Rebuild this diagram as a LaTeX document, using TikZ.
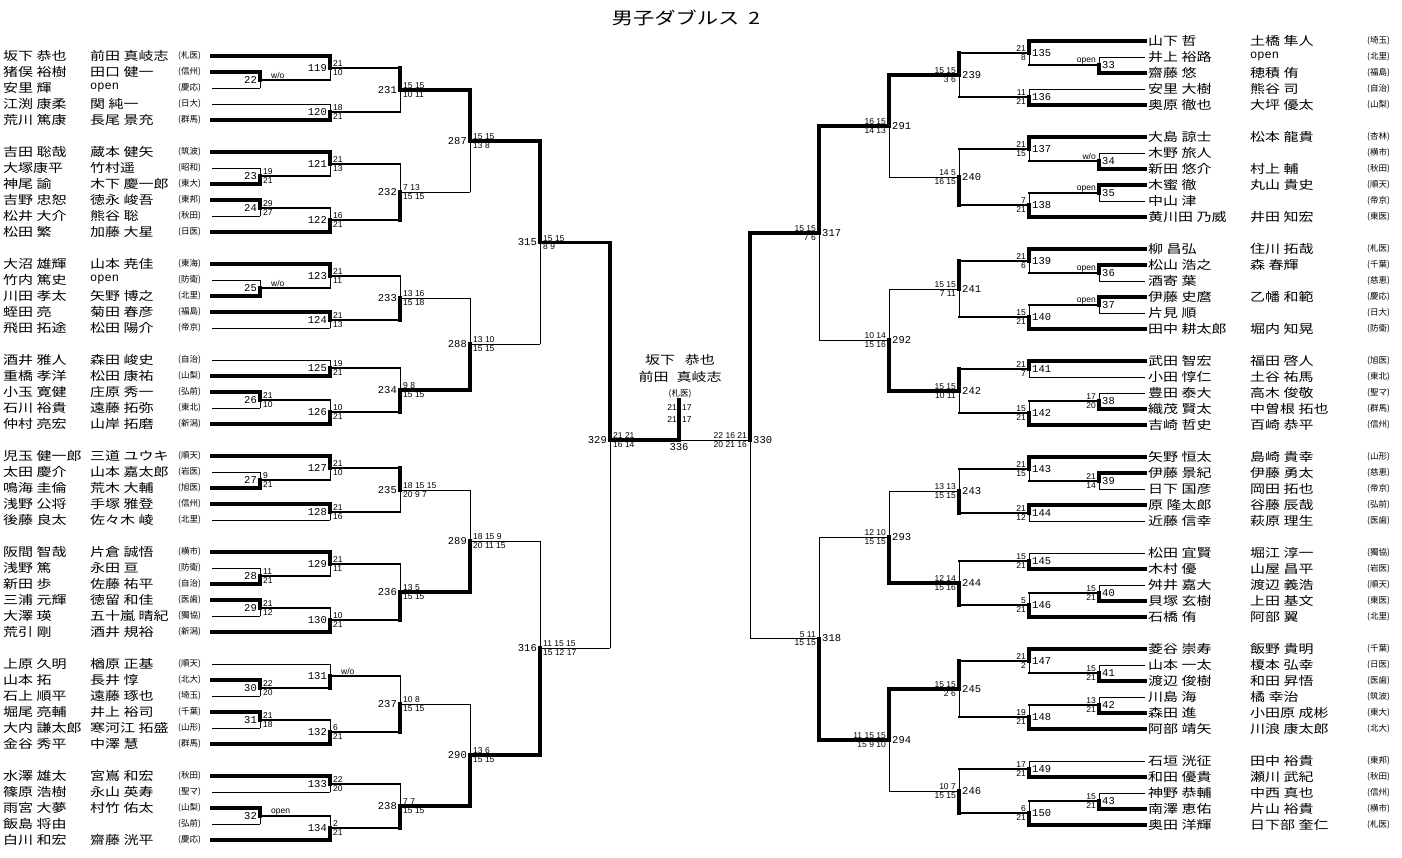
\documentclass[tikz,border=0pt]{standalone}
\usepackage{fontspec}
\newfontfamily\jpfont[FakeStretch=1.25]{Noto Sans CJK JP}
\newfontfamily\jpsmall{Noto Sans CJK JP}
\newfontfamily\numfont{Liberation Mono}
\newfontfamily\scfont{Liberation Sans}
\newcommand\op{{\numfont open}}
% one match: name, x, y, top in, bottom in, top line, bottom line, top half, bottom half
\newcommand\bmatch[9]{%
  \coordinate (#1) at (#2,#3);
  \draw[#6] (#4) -- (#4 -| #1);
  \draw[#7] (#5) -- (#5 -| #1);
  \draw[#8] (#4 -| #1) -- (#1);
  \draw[#9] (#5 -| #1) -- (#1);
}
% number and scores, left half
\newcommand\lnum[4]{%
  \node[num,anchor=east] (n#2) at ([xshift=-2pt]#1) {#2};
  \node[score,anchor=south west] (t#2) at ([xshift=2pt]#1) {#3};
  \node[score,anchor=north west] (b#2) at ([xshift=2pt]#1) {#4};
}
% number and scores, right half
\newcommand\rnum[4]{%
  \node[num,anchor=west] (n#2) at ([xshift=2pt]#1) {#2};
  \node[score,anchor=south east] (t#2) at ([xshift=-2pt]#1) {#3};
  \node[score,anchor=north east] (b#2) at ([xshift=-2pt]#1) {#4};
}
\begin{document}
\begin{tikzpicture}[x=1pt,y=-1pt,
  wpath/.style={line width=3.5pt,line cap=rect},
  mpath/.style={line width=2pt,line cap=rect},
  lpath/.style={line width=0.9pt},
  pname/.style={anchor=west,inner sep=0pt,font=\jpfont\fontsize{12}{12}\selectfont},
  school/.style={anchor=west,inner sep=0pt,font=\jpsmall\fontsize{8.5}{8.5}\selectfont},
  num/.style={inner sep=1pt,font=\numfont\fontsize{10.5}{10.5}\selectfont},
  score/.style={inner sep=1pt,font=\scfont\fontsize{8.5}{8.5}\selectfont}]
\useasboundingbox (0,0) rectangle (1402,857);
\node[font=\jpfont\fontsize{17}{17}\selectfont] (title) at (686,18) {男子ダブルス\hspace{9pt}2};

% left half
\foreach \s/\a/\b/\c in {0/坂下 恭也/前田 真岐志/札医, 1/猪俣 裕樹/田口 健一/信州,
  2/安里 輝/\op/慶応, 3/江渕 康柔/関 純一/日大, 4/荒川 篤康/長尾 景充/群馬,
  6/吉田 聡哉/蔵本 健矢/筑波, 7/大塚康平/竹村遥/昭和, 8/神尾 諭/木下 慶一郎/東大,
  9/吉野 忠恕/徳永 峻吾/東邦, 10/松井 大介/熊谷 聡/秋田, 11/松田 繁/加藤 大星/日医,
  13/大沼 雄輝/山本 尭佳/東海, 14/竹内 篤史/\op/防衛, 15/川田 孝太/矢野 博之/北里,
  16/蛭田 亮/菊田 春彦/福島, 17/飛田 拓途/松田 陽介/帝京,
  19/酒井 雅人/森田 峻史/自治, 20/重橋 孝洋/松田 康祐/山梨, 21/小玉 寛健/庄原 秀一/弘前,
  22/石川 裕貴/遠藤 拓弥/東北, 23/仲村 亮宏/山岸 拓磨/新潟,
  25/児玉 健一郎/三道 ユウキ/順天, 26/太田 慶介/山本 嘉太郎/岩医, 27/鳴海 圭倫/荒木 大輔/旭医,
  28/浅野 公将/手塚 雅登/信州, 29/後藤 良太/佐々木 崚/北里,
  31/阪間 智哉/片倉 誠悟/横市, 32/浅野 篤/永田 亘/防衛, 33/新田 歩/佐藤 祐平/自治,
  34/三浦 元輝/徳留 和佳/医歯, 35/大澤 瑛/五十嵐 晴紀/獨協, 36/荒引 剛/酒井 規裕/新潟,
  38/上原 久明/楢原 正基/順天, 39/山本 拓/長井 惇/北大, 40/石上 順平/遠藤 琢也/埼玉,
  41/堀尾 亮輔/井上 裕司/千葉, 42/大内 謙太郎/寒河江 拓盛/山形, 43/金谷 秀平/中澤 慧/群馬,
  45/水澤 雄太/宮嶌 和宏/秋田, 46/篠原 浩樹/永山 英寿/聖マ, 47/雨宮 大夢/村竹 佑太/山梨,
  48/飯島 将由//弘前, 49/白川 和宏/齋藤 洸平/慶応}{
  \coordinate (L\s) at (212,{56+16*\s});
  \node[pname] (la\s) at (3,{56+16*\s}) {\a};
  \node[pname] (lb\s) at (90,{56+16*\s}) {\b};
  \node[school] (lc\s) at (178,{56+16*\s}) {(\c)};
}

% right half
\foreach \s/\a/\b/\c in {0/山下 哲/土橋 隼人/埼玉, 1/井上 裕路/\op/北里, 2/齋藤 悠/穂積 侑/福島,
  3/安里 大樹/熊谷 司/自治, 4/奥原 徹也/大坪 優太/山梨,
  6/大島 諒士/松本 龍貴/杏林, 7/木野 旅人//横市, 8/新田 悠介/村上 輔/秋田,
  9/木蜜 徹/丸山 貴史/順天, 10/中山 津//帝京, 11/黄川田 乃威/井田 知宏/東医,
  13/柳 昌弘/住川 拓哉/札医, 14/松山 浩之/森 春輝/千葉, 15/酒寄 葉//慈恵,
  16/伊藤 史麿/乙幡 和範/慶応, 17/片見 順//日大, 18/田中 耕太郎/堀内 知晃/防衛,
  20/武田 智宏/福田 啓人/旭医, 21/小田 惇仁/土谷 祐馬/東北, 22/豊田 泰大/高木 俊敬/聖マ,
  23/織茂 賢太/中曽根 拓也/群馬, 24/吉崎 哲史/百崎 恭平/信州,
  26/矢野 恒太/島崎 貴幸/山形, 27/伊藤 景紀/伊藤 勇太/慈恵, 28/日下 国彦/岡田 拓也/帝京,
  29/原 隆太郎/谷藤 辰哉/弘前, 30/近藤 信幸/萩原 理生/医歯,
  32/松田 宜賢/堀江 淳一/獨協, 33/木村 優/山屋 昌平/岩医, 34/舛井 嘉大/渡辺 義浩/順天,
  35/貝塚 玄樹/上田 基文/東医, 36/石橋 侑/阿部 翼/北里,
  38/菱谷 崇寿/飯野 貴明/千葉, 39/山本 一太/榎本 弘幸/日医, 40/渡辺 俊樹/和田 昇悟/医歯,
  41/川島 海/橘 幸治/筑波, 42/森田 進/小田原 成彬/東大, 43/阿部 靖矢/川浪 康太郎/北大,
  45/石垣 洸征/田中 裕貴/東邦, 46/和田 優貴/瀬川 武紀/秋田, 47/神野 恭輔/中西 真也/信州,
  48/南澤 恵佑/片山 裕貴/横市, 49/奥田 洋輝/日下部 奎仁/札医}{
  \coordinate (R\s) at (1145,{41+16*\s});
  \node[pname] (ra\s) at (1148,{41+16*\s}) {\a};
  \node[pname] (rb\s) at (1250,{41+16*\s}) {\b};
  \node[school] (rc\s) at (1367,{41+16*\s}) {(\c)};
}

% left: preliminary round
\bmatch{m22}{260}{80}{L1}{L2}{wpath}{lpath}{wpath}{lpath}
\bmatch{m23}{260}{176}{L7}{L8}{lpath}{wpath}{lpath}{wpath}
\bmatch{m24}{260}{208}{L9}{L10}{wpath}{lpath}{wpath}{lpath}
\bmatch{m25}{260}{288}{L14}{L15}{lpath}{wpath}{lpath}{wpath}
\bmatch{m26}{260}{400}{L21}{L22}{wpath}{lpath}{wpath}{lpath}
\bmatch{m27}{260}{480}{L26}{L27}{lpath}{wpath}{lpath}{wpath}
\bmatch{m28}{260}{576}{L32}{L33}{lpath}{wpath}{lpath}{wpath}
\bmatch{m29}{260}{608}{L34}{L35}{wpath}{lpath}{wpath}{lpath}
\bmatch{m30}{260}{688}{L39}{L40}{wpath}{lpath}{wpath}{lpath}
\bmatch{m31}{260}{720}{L41}{L42}{wpath}{lpath}{wpath}{lpath}
\bmatch{m32}{260}{816}{L47}{L48}{wpath}{lpath}{wpath}{lpath}
% left: first round
\bmatch{m119}{330}{68}{L0}{m22}{wpath}{mpath}{wpath}{lpath}
\bmatch{m120}{330}{112}{L3}{L4}{lpath}{wpath}{lpath}{wpath}
\bmatch{m121}{330}{164}{L6}{m23}{wpath}{mpath}{wpath}{lpath}
\bmatch{m122}{330}{220}{m24}{L11}{mpath}{wpath}{lpath}{wpath}
\bmatch{m123}{330}{276}{L13}{m25}{wpath}{mpath}{wpath}{lpath}
\bmatch{m124}{330}{320}{L16}{L17}{wpath}{lpath}{wpath}{lpath}
\bmatch{m125}{330}{368}{L19}{L20}{lpath}{wpath}{lpath}{wpath}
\bmatch{m126}{330}{412}{m26}{L23}{mpath}{wpath}{lpath}{wpath}
\bmatch{m127}{330}{468}{L25}{m27}{wpath}{mpath}{wpath}{lpath}
\bmatch{m128}{330}{512}{L28}{L29}{wpath}{lpath}{wpath}{lpath}
\bmatch{m129}{330}{564}{L31}{m28}{wpath}{mpath}{wpath}{lpath}
\bmatch{m130}{330}{620}{m29}{L36}{mpath}{wpath}{lpath}{wpath}
\bmatch{m131}{330}{676}{L38}{m30}{lpath}{mpath}{lpath}{wpath}
\bmatch{m132}{330}{732}{m31}{L43}{mpath}{wpath}{lpath}{wpath}
\bmatch{m133}{330}{784}{L45}{L46}{wpath}{lpath}{wpath}{lpath}
\bmatch{m134}{330}{828}{m32}{L49}{mpath}{wpath}{lpath}{wpath}
% left: later rounds
\bmatch{m231}{400}{90}{m119}{m120}{mpath}{mpath}{wpath}{lpath}
\bmatch{m232}{400}{192}{m121}{m122}{mpath}{mpath}{lpath}{wpath}
\bmatch{m233}{400}{298}{m123}{m124}{mpath}{mpath}{lpath}{wpath}
\bmatch{m234}{400}{390}{m125}{m126}{mpath}{mpath}{lpath}{wpath}
\bmatch{m235}{400}{490}{m127}{m128}{mpath}{mpath}{wpath}{lpath}
\bmatch{m236}{400}{592}{m129}{m130}{mpath}{mpath}{lpath}{wpath}
\bmatch{m237}{400}{704}{m131}{m132}{mpath}{mpath}{lpath}{wpath}
\bmatch{m238}{400}{806}{m133}{m134}{mpath}{mpath}{lpath}{wpath}
\bmatch{m287}{470}{141}{m231}{m232}{wpath}{lpath}{wpath}{lpath}
\bmatch{m288}{470}{344}{m233}{m234}{lpath}{wpath}{lpath}{wpath}
\bmatch{m289}{470}{541}{m235}{m236}{lpath}{wpath}{lpath}{wpath}
\bmatch{m290}{470}{755}{m237}{m238}{lpath}{wpath}{lpath}{wpath}
\bmatch{m315}{540}{242.5}{m287}{m288}{wpath}{lpath}{wpath}{lpath}
\bmatch{m316}{540}{648}{m289}{m290}{lpath}{wpath}{lpath}{wpath}
\bmatch{m329}{610}{440}{m315}{m316}{wpath}{lpath}{wpath}{lpath}

% right: preliminary round
\bmatch{m33}{1099}{65}{R1}{R2}{lpath}{wpath}{lpath}{wpath}
\bmatch{m34}{1099}{161}{R7}{R8}{lpath}{wpath}{lpath}{wpath}
\bmatch{m35}{1099}{193}{R9}{R10}{wpath}{lpath}{wpath}{lpath}
\bmatch{m36}{1099}{273}{R14}{R15}{wpath}{lpath}{wpath}{lpath}
\bmatch{m37}{1099}{305}{R16}{R17}{wpath}{lpath}{wpath}{lpath}
\bmatch{m38}{1099}{401}{R22}{R23}{lpath}{wpath}{lpath}{wpath}
\bmatch{m39}{1099}{481}{R27}{R28}{wpath}{lpath}{wpath}{lpath}
\bmatch{m40}{1099}{593}{R34}{R35}{lpath}{wpath}{lpath}{wpath}
\bmatch{m41}{1099}{673}{R39}{R40}{lpath}{wpath}{lpath}{wpath}
\bmatch{m42}{1099}{705}{R41}{R42}{lpath}{wpath}{lpath}{wpath}
\bmatch{m43}{1099}{801}{R47}{R48}{lpath}{wpath}{lpath}{wpath}
% right: first round
\bmatch{m135}{1029}{53}{R0}{m33}{wpath}{mpath}{wpath}{lpath}
\bmatch{m136}{1029}{97}{R3}{R4}{lpath}{wpath}{lpath}{wpath}
\bmatch{m137}{1029}{149}{R6}{m34}{wpath}{mpath}{wpath}{lpath}
\bmatch{m138}{1029}{205}{m35}{R11}{mpath}{wpath}{lpath}{wpath}
\bmatch{m139}{1029}{261}{R13}{m36}{wpath}{mpath}{wpath}{lpath}
\bmatch{m140}{1029}{317}{m37}{R18}{mpath}{wpath}{lpath}{wpath}
\bmatch{m141}{1029}{369}{R20}{R21}{wpath}{lpath}{wpath}{lpath}
\bmatch{m142}{1029}{413}{m38}{R24}{mpath}{wpath}{lpath}{wpath}
\bmatch{m143}{1029}{469}{R26}{m39}{wpath}{mpath}{wpath}{lpath}
\bmatch{m144}{1029}{513}{R29}{R30}{wpath}{lpath}{wpath}{lpath}
\bmatch{m145}{1029}{561}{R32}{R33}{lpath}{wpath}{lpath}{wpath}
\bmatch{m146}{1029}{605}{m40}{R36}{mpath}{wpath}{lpath}{wpath}
\bmatch{m147}{1029}{661}{R38}{m41}{wpath}{mpath}{wpath}{lpath}
\bmatch{m148}{1029}{717}{m42}{R43}{mpath}{wpath}{lpath}{wpath}
\bmatch{m149}{1029}{769}{R45}{R46}{lpath}{wpath}{lpath}{wpath}
\bmatch{m150}{1029}{813}{m43}{R49}{mpath}{wpath}{lpath}{wpath}
% right: later rounds
\bmatch{m239}{959}{75}{m135}{m136}{mpath}{mpath}{wpath}{lpath}
\bmatch{m240}{959}{177}{m137}{m138}{mpath}{mpath}{lpath}{wpath}
\bmatch{m241}{959}{289}{m139}{m140}{mpath}{mpath}{wpath}{lpath}
\bmatch{m242}{959}{391}{m141}{m142}{mpath}{mpath}{wpath}{lpath}
\bmatch{m243}{959}{491}{m143}{m144}{mpath}{mpath}{lpath}{wpath}
\bmatch{m244}{959}{583}{m145}{m146}{mpath}{mpath}{lpath}{wpath}
\bmatch{m245}{959}{689}{m147}{m148}{mpath}{mpath}{wpath}{lpath}
\bmatch{m246}{959}{791}{m149}{m150}{mpath}{mpath}{lpath}{wpath}
\bmatch{m291}{889}{126}{m239}{m240}{wpath}{lpath}{wpath}{lpath}
\bmatch{m292}{889}{340}{m241}{m242}{lpath}{wpath}{lpath}{wpath}
\bmatch{m293}{889}{537}{m243}{m244}{lpath}{wpath}{lpath}{wpath}
\bmatch{m294}{889}{740}{m245}{m246}{wpath}{lpath}{wpath}{lpath}
\bmatch{m317}{819}{233}{m291}{m292}{wpath}{lpath}{wpath}{lpath}
\bmatch{m318}{819}{638.5}{m293}{m294}{lpath}{wpath}{lpath}{wpath}
\bmatch{m330}{750}{440}{m317}{m318}{wpath}{lpath}{wpath}{lpath}

% final
\coordinate (m336) at (679,440);
\coordinate (top336) at (679,400);
\draw[wpath] (m329) -- (m336) -- (top336);
\draw[lpath] (m336) -- (m330);
\node[num,anchor=north] (n336) at ([yshift=-2pt]m336) {336};
\node[score,anchor=east] (f1) at (678,408) {21};
\node[score,anchor=west] (f2) at (681,408) {17};
\node[score,anchor=east] (f3) at (678,420) {21};
\node[score,anchor=west] (f4) at (681,420) {17};
\node[pname,anchor=center] (ch1) at (680,360) {坂下\hspace{10pt}恭也};
\node[pname,anchor=center] (ch2) at (680,377) {前田\hspace{8pt}真岐志};
\node[school,anchor=center] (ch3) at (680,394) {(札医)};

% numbers and scores, left
\lnum{m22}{22}{}{}
\lnum{m23}{23}{19}{21}
\lnum{m24}{24}{29}{27}
\lnum{m25}{25}{}{}
\lnum{m26}{26}{21}{10}
\lnum{m27}{27}{9}{21}
\lnum{m28}{28}{11}{21}
\lnum{m29}{29}{21}{12}
\lnum{m30}{30}{22}{20}
\lnum{m31}{31}{21}{18}
\lnum{m32}{32}{}{}
\node[score,anchor=south west] (wo22) at ([xshift=10pt]m22) {w/o};
\node[score,anchor=south west] (wo25) at ([xshift=10pt]m25) {w/o};
\node[score,anchor=south west] (op32) at ([xshift=10pt]m32) {open};
\node[score,anchor=south west] (wo131) at ([xshift=10pt]m131) {w/o};
\lnum{m119}{119}{21}{10}
\lnum{m120}{120}{18}{21}
\lnum{m121}{121}{21}{13}
\lnum{m122}{122}{16}{21}
\lnum{m123}{123}{21}{11}
\lnum{m124}{124}{21}{13}
\lnum{m125}{125}{19}{21}
\lnum{m126}{126}{10}{21}
\lnum{m127}{127}{21}{10}
\lnum{m128}{128}{21}{16}
\lnum{m129}{129}{21}{11}
\lnum{m130}{130}{10}{21}
\lnum{m131}{131}{}{}
\lnum{m132}{132}{6}{21}
\lnum{m133}{133}{22}{20}
\lnum{m134}{134}{2}{21}
\lnum{m231}{231}{15 15}{10 11}
\lnum{m232}{232}{7 13}{15 15}
\lnum{m233}{233}{13 16}{15 18}
\lnum{m234}{234}{9 8}{15 15}
\lnum{m235}{235}{18 15 15}{20 9 7}
\lnum{m236}{236}{13 5}{15 15}
\lnum{m237}{237}{10 8}{15 15}
\lnum{m238}{238}{7 7}{15 15}
\lnum{m287}{287}{15 15}{13 8}
\lnum{m288}{288}{13 10}{15 15}
\lnum{m289}{289}{18 15 9}{20 11 15}
\lnum{m290}{290}{13 6}{15 15}
\lnum{m315}{315}{15 15}{8 9}
\lnum{m316}{316}{11 15 15}{15 12 17}
\lnum{m329}{329}{21 21}{16 14}

% numbers and scores, right
\rnum{m33}{33}{open}{}
\rnum{m34}{34}{w/o}{}
\rnum{m35}{35}{open}{}
\rnum{m36}{36}{open}{}
\rnum{m37}{37}{open}{}
\rnum{m38}{38}{17}{20}
\rnum{m39}{39}{21}{14}
\rnum{m40}{40}{15}{21}
\rnum{m41}{41}{15}{21}
\rnum{m42}{42}{13}{21}
\rnum{m43}{43}{15}{21}
\rnum{m135}{135}{21}{8}
\rnum{m136}{136}{11}{21}
\rnum{m137}{137}{21}{15}
\rnum{m138}{138}{7}{21}
\rnum{m139}{139}{21}{6}
\rnum{m140}{140}{15}{21}
\rnum{m141}{141}{21}{7}
\rnum{m142}{142}{15}{21}
\rnum{m143}{143}{21}{15}
\rnum{m144}{144}{21}{12}
\rnum{m145}{145}{15}{21}
\rnum{m146}{146}{5}{21}
\rnum{m147}{147}{21}{2}
\rnum{m148}{148}{19}{21}
\rnum{m149}{149}{17}{21}
\rnum{m150}{150}{6}{21}
\rnum{m239}{239}{15 15}{3 6}
\rnum{m240}{240}{14 5}{16 15}
\rnum{m241}{241}{15 15}{7 11}
\rnum{m242}{242}{15 15}{10 11}
\rnum{m243}{243}{13 13}{15 15}
\rnum{m244}{244}{12 14}{15 16}
\rnum{m245}{245}{15 15}{2 6}
\rnum{m246}{246}{10 7}{15 15}
\rnum{m291}{291}{16 15}{14 13}
\rnum{m292}{292}{10 14}{15 16}
\rnum{m293}{293}{12 10}{15 15}
\rnum{m294}{294}{11 15 15}{15 9 10}
\rnum{m317}{317}{15 15}{7 6}
\rnum{m318}{318}{5 11}{15 15}
\rnum{m330}{330}{22 16 21}{20 21 16}
\end{tikzpicture}
\end{document}
